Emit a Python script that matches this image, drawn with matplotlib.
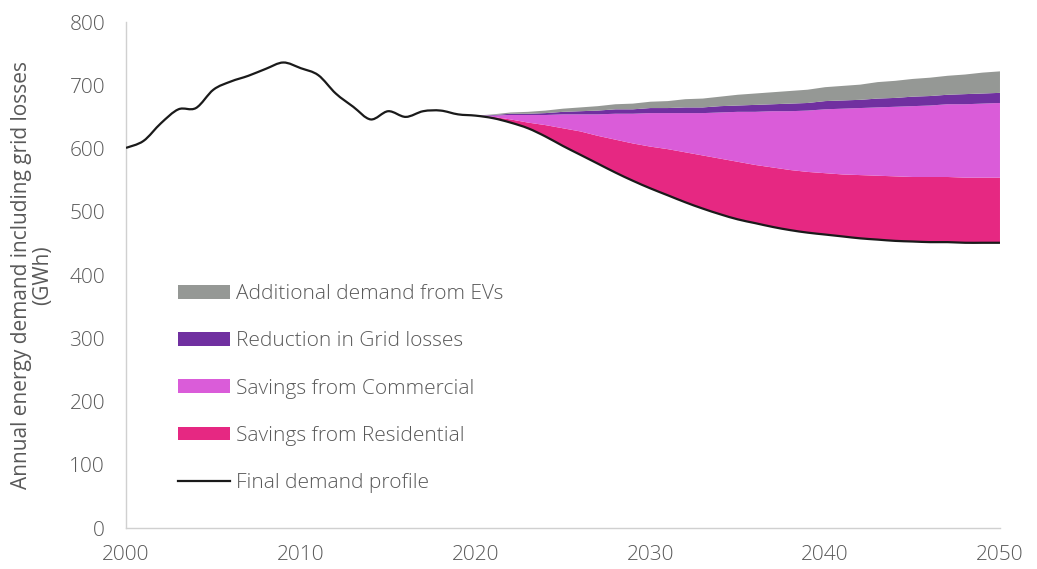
import matplotlib.pyplot as plt
from matplotlib.path import Path
from matplotlib.patches import PathPatch
from matplotlib.lines import Line2D
import numpy as np

# Data (GWh)
years_hist = list(range(2000, 2020))
demand_hist = [601, 612, 640, 662, 664, 693, 706, 715, 726, 736,
               727, 716, 687, 666, 646, 659, 650, 659, 660, 654]

years_proj = list(range(2020, 2051))
final_demand = [652, 648, 641, 632, 619, 604, 590, 576, 562, 549,
                537, 526, 515, 505, 496, 488, 482, 476, 471, 467,
                464, 461, 458, 456, 454, 453, 452, 452, 451, 451, 451]
savings_residential = [0, 2, 5, 9, 18, 28, 37, 44, 52, 59,
                       66, 73, 79, 84, 88, 91, 92, 94, 95, 96,
                       97, 98, 100, 101, 102, 102, 103, 103, 103, 103, 103]
savings_commercial = [0, 2, 7, 12, 16, 22, 27, 34, 41, 47,
                      53, 57, 62, 67, 73, 79, 84, 89, 93, 97,
                      101, 104, 106, 108, 110, 112, 113, 115, 116, 117, 118]
grid_losses = [0, 1, 2, 2, 3, 4, 5, 6, 7, 7,
               8, 8, 9, 9, 10, 10, 11, 11, 12, 12,
               13, 13, 13, 14, 14, 15, 15, 15, 16, 16, 16]
ev_demand = [0, 1, 2, 3, 4, 5, 6, 7, 8, 9,
             10, 11, 13, 14, 15, 17, 18, 19, 20, 21,
             22, 23, 24, 26, 27, 28, 29, 30, 31, 33, 34]

labels = ["Additional demand from EVs", "Reduction in Grid losses",
          "Savings from Commercial", "Savings from Residential"]
colors = ["#959895", "#7030a0", "#da5cd9", "#e62882"]

text_color = "#595959"
font_size = 15
plt.rcParams['font.family'] = ['Open Sans', 'DejaVu Sans']
plt.rcParams['font.weight'] = 'light'


# smooth curve through the points (like a spreadsheet "smoothed line")
def smooth_path(x, y):
    x = np.asarray(x, dtype=float)
    y = np.asarray(y, dtype=float)
    pts = np.column_stack([x, y])
    n = len(pts)
    verts = [pts[0]]
    codes = [Path.MOVETO]
    for i in range(n - 1):
        p0 = pts[max(i - 1, 0)]
        p1 = pts[i]
        p2 = pts[i + 1]
        p3 = pts[min(i + 2, n - 1)]
        c1 = p1 + (p2 - p0) / 6.0
        c2 = p2 - (p3 - p1) / 6.0
        verts += [c1, c2, p2]
        codes += [Path.CURVE4] * 3
    return Path(verts, codes)


fig = plt.figure(figsize=(10.37, 5.69), dpi=100)
ax = fig.add_axes([0.1215, 0.072, 0.8428, 0.8893])

# stacked areas on top of the final demand profile
polys = ax.stackplot(
    years_proj,
    final_demand,
    savings_residential,
    savings_commercial,
    grid_losses,
    ev_demand,
    colors=["none", colors[3], colors[2], colors[1], colors[0]],
    linewidth=0
)

line_years = years_hist + years_proj
line_vals = demand_hist + final_demand
ax.add_patch(PathPatch(smooth_path(line_years, line_vals), facecolor="none",
                       edgecolor="#1a1a1a", linewidth=1.6, zorder=3))

ax.set_xlim(2000, 2050)
ax.set_ylim(0, 800)
ax.set_xticks(range(2000, 2051, 10))
ax.set_yticks(range(0, 801, 100))

for side in ["top", "right"]:
    ax.spines[side].set_visible(False)
for side in ["left", "bottom"]:
    ax.spines[side].set_color("#d0d0d0")
    ax.spines[side].set_linewidth(1.0)

ax.tick_params(axis="x", length=0, pad=12, labelsize=font_size, labelcolor=text_color)
ax.tick_params(axis="y", length=0, pad=15, labelsize=font_size, labelcolor=text_color)

ax.set_ylabel("Annual energy demand including grid losses\n(GWh)",
              fontsize=font_size, color=text_color, labelpad=12, linespacing=1.0)

line_handle = Line2D([], [], color="#1a1a1a", linewidth=1.6)
handles = [polys[4], polys[3], polys[2], polys[1], line_handle]
leg_labels = labels + ["Final demand profile"]
ax.legend(
    handles, leg_labels,
    loc="center left",
    bbox_to_anchor=(0.0595, 0.2757),
    frameon=False,
    fontsize=font_size,
    labelcolor=text_color,
    handlelength=2.5,
    handleheight=0.62,
    handletextpad=0.29,
    labelspacing=1.3,
    borderpad=0,
    borderaxespad=0
)

fig.savefig("out.png", dpi=100)
